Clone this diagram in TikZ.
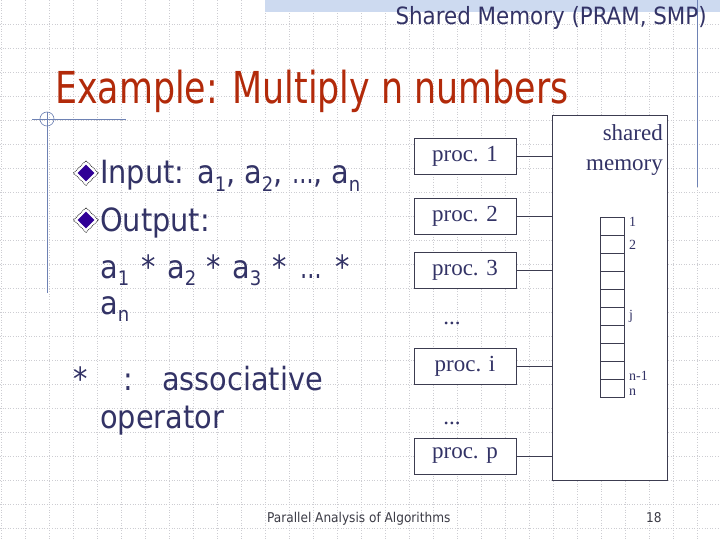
\documentclass[tikz,border=0pt]{standalone}
\usepackage{fontspec}
\usetikzlibrary{shapes.geometric}
\setmainfont{DejaVu Sans Condensed}
\newfontfamily\tah{DejaVu Sans Condensed}
\newfontfamily\tms{Liberation Serif}
\definecolor{navy}{RGB}{51,51,102}
\definecolor{ttl}{RGB}{178,42,10}
\definecolor{gridc}{RGB}{205,205,210}
\definecolor{deco}{RGB}{110,130,180}
\definecolor{band}{RGB}{205,218,240}
\definecolor{bul}{RGB}{48,0,150}
\definecolor{boxc}{RGB}{60,60,80}
\definecolor{foot}{RGB}{60,60,70}
\newcommand\sbs[1]{\raisebox{-0.22em}{\fontsize{20}{20}\selectfont #1}}
\newcommand\sdots{\scalebox{0.75}[1]{\dots}}
\tikzset{
  procbox/.style={draw=boxc, fill=white, line width=0.9pt, minimum width=102pt, minimum height=36pt, inner sep=0pt, font=\tms\fontsize{23}{23}\selectfont, text=navy},
  cellbox/.style={draw=boxc, fill=white, line width=0.8pt, minimum width=24pt, minimum height=18pt, inner sep=0pt},
  body/.style={anchor=base west, inner sep=0pt, text=navy, font=\tah\fontsize{32}{36}\selectfont},
  memlab/.style={anchor=west, inner sep=0pt, text=navy, font=\tms\fontsize{14}{14}\selectfont},
  dotsl/.style={anchor=base, inner sep=0pt, text=navy, font=\tms\fontsize{23}{23}\selectfont},
  conn/.style={draw=boxc, line width=0.9pt},
  bulout/.style={diamond, draw=black, densely dotted, line width=0.8pt, fill=white, minimum size=25pt, inner sep=0pt},
  bulin/.style={diamond, fill=bul, minimum size=17pt, inner sep=0pt},
}
\begin{document}
\begin{tikzpicture}[x=1pt,y=-1pt]
\useasboundingbox (0,0) rectangle (720,540);
\fill[white] (0,0) rectangle (720,540);
% grid
\foreach \x in {1,25,...,721} \draw[gridc, dotted, line width=0.6pt] (\x,0) -- (\x,540);
\foreach \y in {24,48,...,528} \draw[gridc, dotted, line width=0.6pt] (0,\y) -- (720,\y);
% top band
\fill[band] (265,0) rectangle (720,12);
% decorations
\draw[deco, line width=0.8pt] (697,0) -- (697,187);
\draw[deco, line width=0.8pt] (32,119) -- (126,119);
\draw[deco, line width=0.8pt] (47,112) -- (47,293);
\draw[deco, line width=0.6pt] (47,119) circle[radius=7pt];
% titles
\node[anchor=base east, inner sep=0pt, text=navy, font=\tah\fontsize{23.8}{26}\selectfont] (hdr) at (707,25) {Shared Memory (PRAM, SMP)};
\node[anchor=base west, inner sep=0pt, text=ttl, font=\tah\fontsize{44}{50}\selectfont] (title) at (55,104) {\scalebox{0.88}[1]{Example: Multiply n numbers}};
% bullets
\node[bulout] (b1) at (86,173) {};
\node[bulin] (b1i) at (86,173) {};
\node[bulout] (b2) at (86,220) {};
\node[bulin] (b2i) at (86,220) {};
% body
\node[body] (t1) at (100,184) {\makebox[97pt][l]{Input:}\makebox[47pt][l]{a\sbs{1},}\makebox[48pt][l]{a\sbs{2},}\makebox[39pt][l]{\sdots,}a\sbs{n}};
\node[body] (t2) at (100,231) {Output:};
\node[body] (t3) at (100,278) {\makebox[41pt][l]{a\sbs{1}}\makebox[26pt][l]{*}\makebox[39pt][l]{a\sbs{2}}\makebox[26pt][l]{*}\makebox[40pt][l]{a\sbs{3}}\makebox[28pt][l]{*}\makebox[35pt][l]{\sdots}*};
\node[body] (t4) at (100,314) {a\sbs{n}};
\node[body] (t5) at (73,390) {\makebox[50pt][l]{*}\makebox[39pt][l]{:}associative};
\node[body] (t6) at (100,428) {operator};
% memory
\node[draw=boxc, fill=white, line width=0.9pt, minimum width=115pt, minimum height=365pt, inner sep=0pt] (mem) at (609.5,297.5) {};
\node[anchor=base east, inner sep=0pt, text=navy, font=\tms\fontsize{23}{23}\selectfont] (sh) at (663,141) {shared};
\node[anchor=base east, inner sep=0pt, text=navy, font=\tms\fontsize{23}{23}\selectfont] (me) at (663,171) {memory};
\foreach \i in {0,...,9} \node[cellbox] (c\i) at (612,{226+18*\i}) {};
\node[memlab] (l1) at (629,222) {1};
\node[memlab] (l2) at (629,245) {2};
\node[memlab] (lj) at (629,316) {j};
\node[memlab] (ln1) at (629,376) {n-1};
\node[memlab] (ln) at (629,392) {n};
% processors
\node[procbox] (p1) at (465,156) {proc. 1};
\node[procbox] (p2) at (465,216) {proc. 2};
\node[procbox] (p3) at (465,270) {proc. 3};
\node[dotsl] (d1) at (452,324) {...};
\node[procbox] (pi) at (465,366) {proc. i};
\node[dotsl] (d2) at (452,424) {...};
\node[procbox] (pp) at (465,456) {proc. p};
\foreach \p in {p1,p2,p3,pi,pp} \draw[conn] (\p.east) -- (\p.east -| mem.west);
% footer
\node[anchor=base west, inner sep=0pt, text=foot, font=\tah\fontsize{13.5}{14}\selectfont] (ft) at (267,522) {Parallel Analysis of Algorithms};
\node[anchor=base west, inner sep=0pt, text=foot, font=\tah\fontsize{13.5}{14}\selectfont] (pg) at (646,522) {18};
\end{tikzpicture}
\end{document}
